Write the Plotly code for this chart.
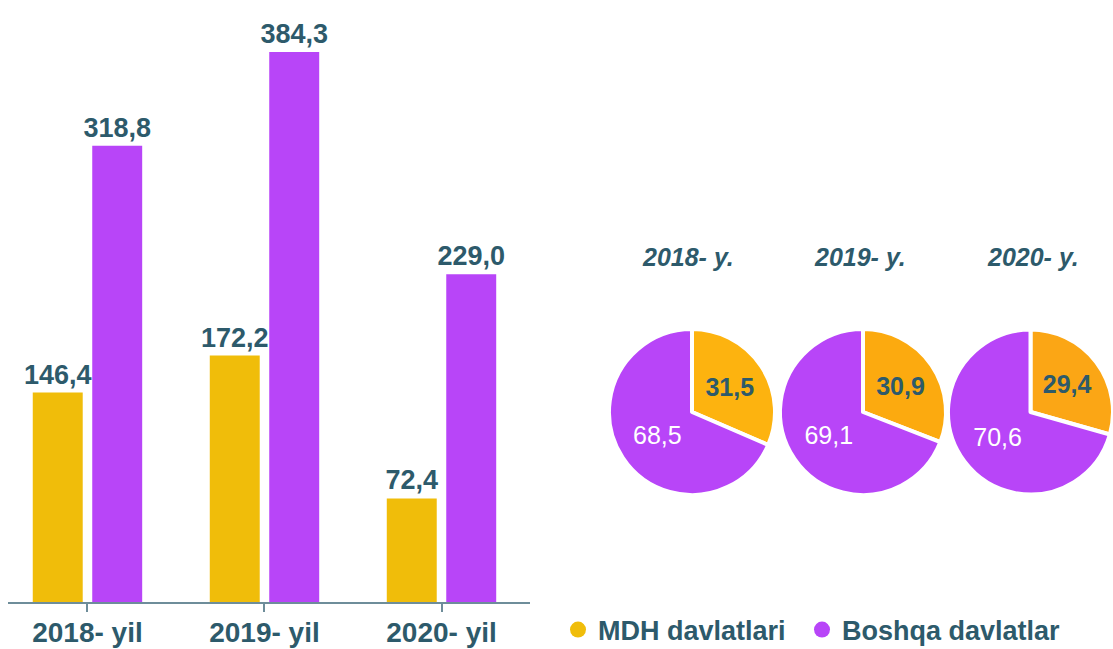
import plotly.graph_objects as go

years = ["2018- yil", "2019- yil", "2020- yil"]
mdh_values = [146.4, 172.2, 72.4]
boshqa_values = [318.8, 384.3, 229.0]

pie_titles = ["2018- y.", "2019- y.", "2020- y."]
pie_mdh = [31.5, 30.9, 29.4]
pie_boshqa = [68.5, 69.1, 70.6]

series_names = ["MDH davlatlari", "Boshqa davlatlar"]

W, H = 1113, 649
FONT = "Liberation Sans, Arial, Helvetica, sans-serif"
TEXT = "#2d5a6b"
YEL = "#f0bd0a"
PUR = "#b845f8"
PIE_YEL = ["#fdb30f", "#fcaa0f", "#fba615"]

fig = go.Figure()

for name, vals, col in [(series_names[0], mdh_values, YEL), (series_names[1], boshqa_values, PUR)]:
    fig.add_trace(go.Bar(
        x=years, y=vals, name=name, marker=dict(color=col, line=dict(width=0)),
        texttemplate="%{y:.1f}", textposition="outside", constraintext="none",
        textfont=dict(family=FONT, size=27, color=TEXT, weight="bold"),
        cliponaxis=False, showlegend=False, hoverinfo="skip",
    ))

def px_x(a, b):
    return [a / W, b / W]

def px_y(top, bottom):
    return [(H - bottom) / H, (H - top) / H]

d = 166
centers = [692, 863, 1031]
for i in range(3):
    cx = centers[i]
    x0, x1 = cx - d / 2, min(cx + d / 2, W)
    fig.add_trace(go.Pie(
        values=[pie_mdh[i], pie_boshqa[i]], labels=series_names,
        sort=False, direction="clockwise", rotation=0,
        marker=dict(colors=[PIE_YEL[i], PUR], line=dict(color="white", width=4)),
        texttemplate="%{value:.1f}", textposition="inside", insidetextorientation="horizontal",
        insidetextfont=dict(family=FONT, size=25, color=[TEXT, "white"], weight=["bold", "normal"]),
        domain=dict(x=px_x(x0, x1), y=px_y(329, 495)),
        showlegend=False, hoverinfo="skip",
    ))

# legend-only markers, each in its own legend box
for name, col, leg in [(series_names[0], YEL, "legend"), (series_names[1], PUR, "legend2")]:
    fig.add_trace(go.Scatter(x=[None], y=[None], mode="markers", name=name, legend=leg,
                             marker=dict(color=col, size=16, symbol="circle")))

annotations = []
for i, t in enumerate(pie_titles):
    annotations.append(dict(
        text=t, x=[688, 860, 1033][i] / W, y=(H - 257) / H, xref="paper", yref="paper",
        xanchor="center", yanchor="middle", showarrow=False,
        font=dict(family=FONT, size=25, color=TEXT, weight="bold", style="italic"),
    ))

legend_style = dict(orientation="h", y=(H - 630) / H, xanchor="left", yanchor="middle",
                    font=dict(family=FONT, size=27, color=TEXT, weight="bold"),
                    bgcolor="rgba(0,0,0,0)", itemsizing="trace")

fig.update_layout(
    width=W, height=H, margin=dict(l=0, r=0, t=0, b=0, autoexpand=False),
    paper_bgcolor="white", plot_bgcolor="white",
    separators=",.",
    barmode="group", bargap=0.328, bargroupgap=0.16,
    xaxis=dict(domain=px_x(8, 530), range=[-0.449, 2.5], showline=True, linecolor="#6e8d9a",
               linewidth=2, ticks="outside", ticklen=8, tickwidth=2, tickcolor="#6e8d9a",
               tickfont=dict(family=FONT, size=28, color=TEXT, weight="bold"),
               showgrid=False, zeroline=False, fixedrange=True, ticklabelstandoff=-4),
    yaxis=dict(domain=[(H - 602) / H, 1], range=[0, 420.7], visible=False, fixedrange=True),
    legend=dict(x=558 / W, **legend_style),
    legend2=dict(x=802 / W, **legend_style),
    annotations=annotations,
)

fig.write_html("out.html")
